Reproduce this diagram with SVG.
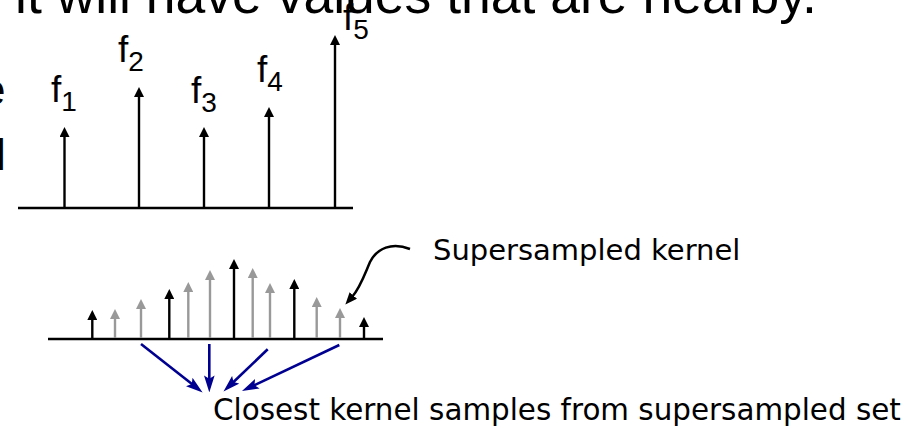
<svg xmlns="http://www.w3.org/2000/svg" width="908" height="428" viewBox="0 0 908 428">
<style>
.arial{font-family:"Liberation Sans",Arial,sans-serif;fill:#000}
.comic{font-family:"DejaVu Sans",sans-serif;fill:#000}
.axis{stroke:#000;stroke-width:2.6;fill:none}
.stem{stroke:#000;stroke-width:2.4;fill:none;marker-end:url(#ahBlack)}
.gstem{stroke:#999;stroke-width:2.4;fill:none;marker-end:url(#ahGray)}
.blue{stroke:#000090;stroke-width:2.6;fill:none;marker-end:url(#ahBlue)}
</style>
<defs>
<marker id="ahBlack" viewBox="0 0 10 10" markerWidth="11" markerHeight="10" refX="2" refY="5" orient="auto" markerUnits="userSpaceOnUse"><path d="M0,0 L10,5 L0,10 z" fill="#000"/></marker>
<marker id="ahGray" viewBox="0 0 10 10" markerWidth="11" markerHeight="10" refX="2" refY="5" orient="auto" markerUnits="userSpaceOnUse"><path d="M0,0 L10,5 L0,10 z" fill="#999"/></marker>
<marker id="ahBlue" viewBox="0 0 16 10" markerWidth="17" markerHeight="11" refX="4" refY="5" orient="auto" markerUnits="userSpaceOnUse"><path d="M0,0 L16,5 L0,10 L3,5 z" fill="#000090"/></marker>
<marker id="ahCurve" viewBox="0 0 12 10" markerWidth="12" markerHeight="10" refX="2" refY="5" orient="auto" markerUnits="userSpaceOnUse"><path d="M0,0 L12,5 L0,10 z" fill="#000"/></marker>
</defs>

<g id="heading">
<text class="arial" x="15" y="13" font-size="53.5">it will have values that are nearby.</text>
<text class="arial" x="-19" y="105" font-size="44">e</text>
<text class="arial" x="-4" y="170" font-size="44">l</text>
</g>

<g id="original-samples">
<line class="axis" x1="18" y1="208" x2="353" y2="208"/>
<line class="stem" x1="64.5" y1="207" x2="64.5" y2="135"/>
<line class="stem" x1="139" y1="207" x2="139" y2="95"/>
<line class="stem" x1="204" y1="207" x2="204" y2="135"/>
<line class="stem" x1="269" y1="207" x2="269" y2="115"/>
<line class="stem" x1="335" y1="207" x2="335" y2="43"/>
<text class="arial" x="51" y="102" font-size="37">f<tspan font-size="28" dy="9">1</tspan></text>
<text class="arial" x="118" y="62" font-size="37">f<tspan font-size="28" dy="9">2</tspan></text>
<text class="arial" x="191" y="103" font-size="37">f<tspan font-size="28" dy="9">3</tspan></text>
<text class="arial" x="257" y="82" font-size="37">f<tspan font-size="28" dy="9">4</tspan></text>
<text class="arial" x="343" y="30" font-size="37">f<tspan font-size="28" dy="9">5</tspan></text>
</g>

<g id="supersampled-kernel">
<line class="axis" x1="48" y1="339" x2="383" y2="339"/>
<line class="stem" x1="92.3" y1="338" x2="92.3" y2="318"/>
<line class="gstem" x1="115" y1="338" x2="115" y2="317"/>
<line class="gstem" x1="141" y1="338" x2="141" y2="307"/>
<line class="stem" x1="169.3" y1="338" x2="169.3" y2="297"/>
<line class="gstem" x1="188.3" y1="338" x2="188.3" y2="290"/>
<line class="gstem" x1="210" y1="338" x2="210" y2="278"/>
<line class="stem" x1="234" y1="338" x2="234" y2="267"/>
<line class="gstem" x1="252.7" y1="338" x2="252.7" y2="276"/>
<line class="gstem" x1="270" y1="338" x2="270" y2="291"/>
<line class="stem" x1="294.3" y1="338" x2="294.3" y2="287"/>
<line class="gstem" x1="316.7" y1="338" x2="316.7" y2="305"/>
<line class="gstem" x1="340" y1="338" x2="340" y2="316"/>
<line class="stem" x1="364" y1="338" x2="364" y2="325"/>
</g>

<g id="label-supersampled">
<text class="comic" x="433" y="260" font-size="29">Supersampled kernel</text>
</g>

<g id="label-closest">
<text class="comic" x="213" y="420" font-size="29.4">Closest kernel samples from supersampled set</text>
</g>

<g id="connectors">
<path d="M410,249 C392,242 377,248 370,262 C364,276 360,288 352,297" stroke="#000" stroke-width="2.5" fill="none" marker-end="url(#ahCurve)"/>
<line class="blue" x1="141" y1="344" x2="192.6" y2="384.6"/>
<line class="blue" x1="209.3" y1="344" x2="209.3" y2="379.7"/>
<line class="blue" x1="267.7" y1="349.3" x2="232.7" y2="382.7"/>
<line class="blue" x1="339.3" y1="345" x2="253.5" y2="385.6"/>
</g>
</svg>
